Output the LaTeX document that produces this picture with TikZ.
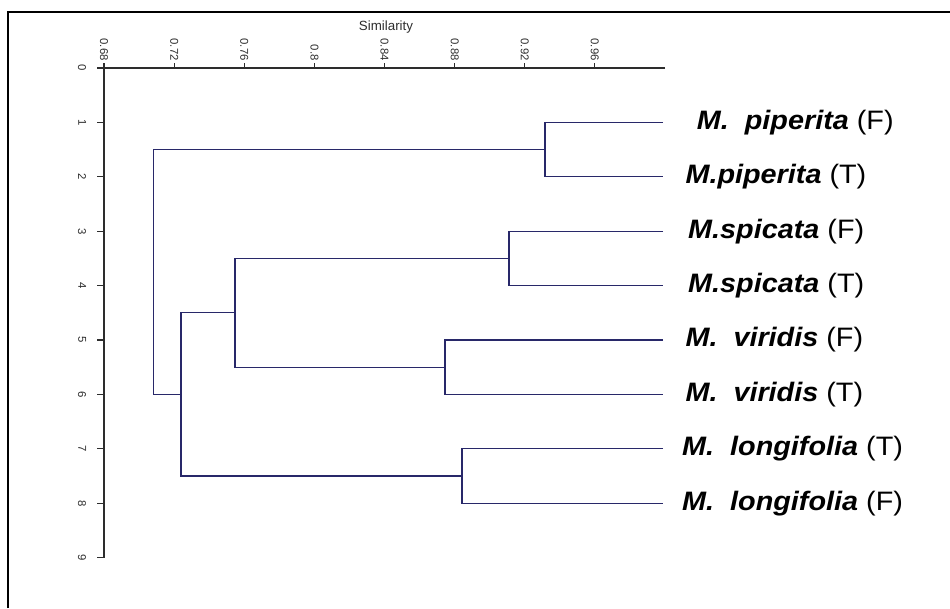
\documentclass[tikz,border=0pt]{standalone}
\usepackage{fontspec}
\setmainfont{Liberation Sans}
\usetikzlibrary{positioning}
\definecolor{treeblue}{RGB}{40,40,105}
\definecolor{axisgray}{RGB}{45,45,45}
\tikzset{branch/.style = {draw = treeblue, line width = 0.9pt}}
\tikzset{axisline/.style = {draw = axisgray, line width = 0.9pt}}
\tikzset{ticklab/.style = {font = \fontsize{8.5}{9}\selectfont, text = axisgray, inner sep = 1pt, rotate = -90}}
\tikzset{taxon/.style = {font = \fontsize{20}{24}\selectfont, inner sep = 0, xscale = 1.08}}

\begin{document}
\begin{tikzpicture}[x = 0.75pt, y = -0.75pt]
  \useasboundingbox (0, 0) rectangle (950, 608);
  \draw [line width = 2pt] (8, 608) -- (8, 12) -- (950, 12);

  \node [font = \fontsize{10}{11}\selectfont, text = axisgray] (simtitle) at (386, 27) {Similarity};

  \begin{scope}[shift = {(-1088, 68)}, x = 1314.75pt, y = -40.8pt]
    \coordinate (origin) at (0.68, 0);
    \coordinate (xend) at (1.00, 0);
    \coordinate (yend) at (0.68, 9);
    \draw [axisline] (xend) -- (origin) -- (yend);

    \foreach \s [count = \i] in {0.68, 0.72, 0.76, 0.8, 0.84, 0.88, 0.92, 0.96}
      \draw [axisline] (\s, 0) -- ++(0pt, 4pt) node [ticklab, anchor = east] (xtick\i) {\s};
    \foreach \k in {0, ..., 9}
      \draw [axisline] (0.68, \k) -- ++(-5pt, 0pt) ++(-7pt, 0pt) node [ticklab, anchor = north] (ytick\k) {\k};

    % leaves
    \coordinate (pipF) at (0.999, 1);
    \coordinate (pipT) at (0.999, 2);
    \coordinate (spiF) at (0.999, 3);
    \coordinate (spiT) at (0.999, 4);
    \coordinate (virF) at (0.999, 5);
    \coordinate (virT) at (0.999, 6);
    \coordinate (lonT) at (0.999, 7);
    \coordinate (lonF) at (0.999, 8);

    % clusters
    \coordinate (mpip) at (0.9316, 1.5);
    \coordinate (mspi) at (0.911, 3.5);
    \coordinate (mvir) at (0.8745, 5.5);
    \coordinate (mlon) at (0.8842, 7.5);
    \coordinate (mspivir) at (0.7547, 4.5);
    \coordinate (mlow) at (0.7239, 6);
    \coordinate (mroot) at (0.708, 3.75);

    \draw [branch] (pipF) -| (mpip) |- (pipT);
    \draw [branch] (spiF) -| (mspi) |- (spiT);
    \draw [branch] (virF) -| (mvir) |- (virT);
    \draw [branch] (lonT) -| (mlon) |- (lonF);
    \draw [branch] (mspi) -| (mspivir) |- (mvir);
    \draw [branch] (mspivir) -| (mlow) |- (mlon);
    \draw [branch] (mpip) -| (mroot) |- (mlow);

    \node [taxon, right = 25pt of pipF] (labpipF) {\textbf{\textit{M.\ \ piperita}} (F)};
    \node [taxon, right = 16.5pt of pipT] (labpipT) {\textbf{\textit{M.piperita}} (T)};
    \node [taxon, right = 18.5pt of spiF] (labspiF) {\textbf{\textit{M.spicata}} (F)};
    \node [taxon, right = 18.5pt of spiT] (labspiT) {\textbf{\textit{M.spicata}} (T)};
    \node [taxon, right = 16.5pt of virF] (labvirF) {\textbf{\textit{M.\ \ viridis}} (F)};
    \node [taxon, right = 16.5pt of virT] (labvirT) {\textbf{\textit{M.\ \ viridis}} (T)};
    \node [taxon, right = 14pt of lonT] (lablonT) {\textbf{\textit{M.\ \ longifolia}} (T)};
    \node [taxon, right = 14pt of lonF] (lablonF) {\textbf{\textit{M.\ \ longifolia}} (F)};
  \end{scope}
\end{tikzpicture}
\end{document}
